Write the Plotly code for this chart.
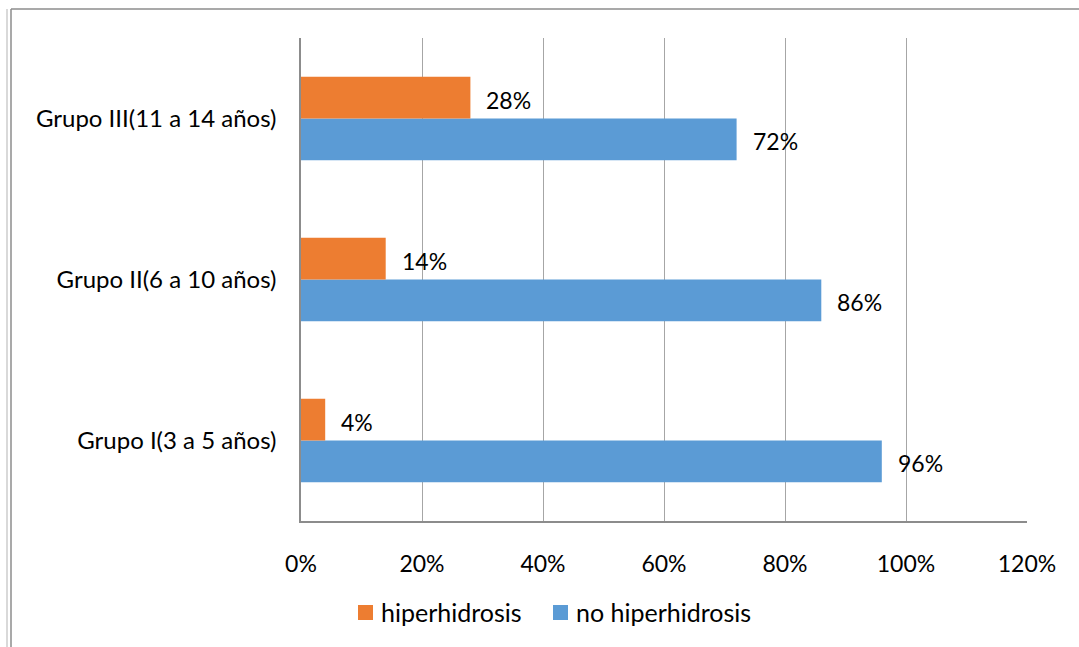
import plotly.graph_objects as go

# Age groups (bottom to top) and percentage of children per group
groups = ["Grupo I(3 a 5 años)", "Grupo II(6 a 10 años)", "Grupo III(11 a 14 años)"]
no_hiperhidrosis = [96, 86, 72]
hiperhidrosis = [4, 14, 28]
x_ticks = [0, 20, 40, 60, 80, 100, 120]

ORANGE = "#ED7D31"
BLUE = "#5B9BD5"
FONT = "Lato, Carlito, Calibri, sans-serif"
FS = 23

W, H = 1079, 647
L, R, T, B = 301, 52, 38, 126

series = [
    ("no hiperhidrosis", no_hiperhidrosis, BLUE),
    ("hiperhidrosis", hiperhidrosis, ORANGE),
]

fig = go.Figure()
for name, vals, color in series:
    fig.add_trace(go.Bar(
        y=groups, x=vals, orientation="h", name=name,
        marker=dict(color=color, line=dict(width=0)),
    ))

# value labels just past each bar end
annotations = []
for (name, vals, color), shift in zip(series, (-22, 19)):
    for g, v in zip(groups, vals):
        annotations.append(dict(
            x=v, y=g, xref="x", yref="y", text=f"{v}%", showarrow=False,
            xanchor="left", yanchor="middle", xshift=14, yshift=shift,
            font=dict(family=FONT, size=FS, color="#000000"),
        ))

# paper coordinates from pixel positions
pw, ph = W - L - R, H - T - B
def px(x):
    return (x - L) / pw
def py(y):
    return (H - B - y) / ph

# outer chart frame
shapes = [
    dict(type="line", xref="paper", yref="paper", x0=px(11), x1=px(1079), y0=py(9), y1=py(9),
         line=dict(color="#8c8c8c", width=1.5)),
    dict(type="line", xref="paper", yref="paper", x0=px(11), x1=px(11), y0=py(9), y1=py(647),
         line=dict(color="#8c8c8c", width=1.5)),
    dict(type="line", xref="paper", yref="paper", x0=px(7), x1=px(7), y0=py(9), y1=py(647),
         line=dict(color="#d9d9d9", width=2)),
]

# legend row below the axis
legend_items = [(series[1][0], series[1][2], 358), (series[0][0], series[0][2], 553)]
for name, color, x0 in legend_items:
    shapes.append(dict(type="rect", xref="paper", yref="paper",
                       x0=px(x0), x1=px(x0 + 15), y0=py(620), y1=py(605),
                       fillcolor=color, line=dict(width=0)))
    annotations.append(dict(x=px(x0 + 21), y=py(612), xref="paper", yref="paper",
                            text=name, showarrow=False, xanchor="left", yanchor="middle",
                            font=dict(family=FONT, size=25, color="#000000")))

fig.update_layout(
    width=W, height=H,
    margin=dict(l=L, r=R, t=T, b=B, pad=0),
    paper_bgcolor="white", plot_bgcolor="white",
    barmode="group", bargap=0.48, bargroupgap=0,
    font=dict(family=FONT, size=FS, color="#000000"),
    showlegend=False,
    annotations=annotations,
    shapes=shapes,
    xaxis=dict(range=[0, 120], tickvals=x_ticks, ticktext=[f"{t}%" for t in x_ticks],
               tickmode="array",
               showgrid=True, gridcolor="#a6a6a6", gridwidth=1,
               showline=True, linecolor="#8c8c8c", linewidth=1.5,
               zeroline=False, ticks="", ticklabelstandoff=22, fixedrange=True),
    yaxis=dict(showgrid=False, showline=True, linecolor="#8c8c8c", linewidth=1.5,
               zeroline=False, ticks="", ticklabelstandoff=18, fixedrange=True,
               tickfont=dict(family=FONT, size=24)),
)

fig.write_html("out.html")
